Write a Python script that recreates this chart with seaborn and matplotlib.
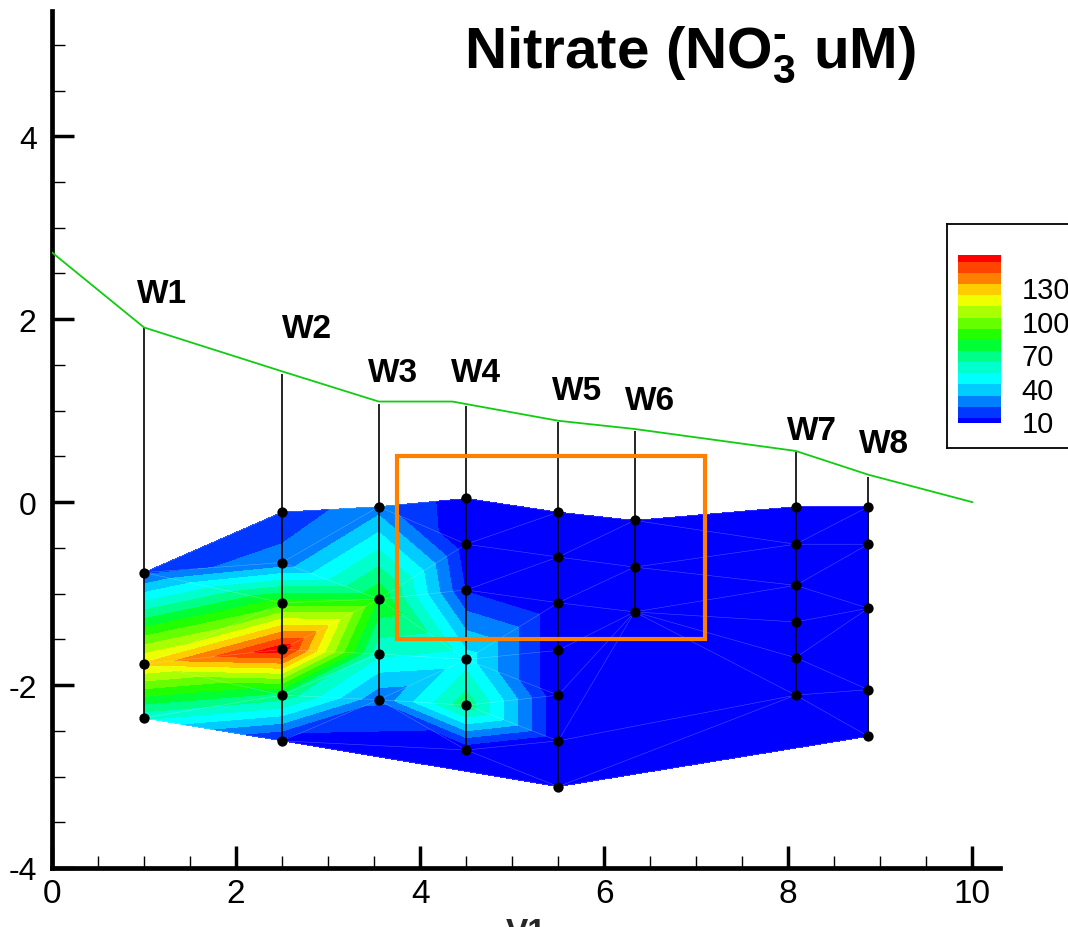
import numpy as np
import pandas as pd
import matplotlib
matplotlib.use("Agg")
import matplotlib.pyplot as plt
import matplotlib.tri as mtri
import matplotlib.patches as mpatches
from matplotlib.colors import ListedColormap, BoundaryNorm
from matplotlib.ticker import MultipleLocator
import seaborn as sns

# ---------------- data ----------------
wells = ["W1", "W2", "W3", "W4", "W5", "W6", "W7", "W8"]
well_x = [1.0, 2.5, 3.55, 4.5, 5.5, 6.33, 8.08, 8.87]
well_top = [1.90, 1.40, 1.07, 1.05, 0.88, 0.78, 0.55, 0.28]

depth_W1 = [-0.77, -1.77, -2.36]
depth_W2 = [-0.11, -0.66, -1.10, -1.61, -2.11, -2.61]
depth_W3 = [-0.05, -1.06, -1.66, -2.16]
depth_W4 = [0.04, -0.46, -0.96, -1.72, -2.22, -2.71]
depth_W5 = [-0.11, -0.60, -1.10, -1.62, -2.11, -2.61, -3.11]
depth_W6 = [-0.20, -0.71, -1.20]
depth_W7 = [-0.05, -0.46, -0.91, -1.31, -1.70, -2.11]
depth_W8 = [-0.05, -0.46, -1.16, -2.05, -2.56]

nitrate_W1 = [20, 125, 55]
nitrate_W2 = [18, 26, 88, 160, 70, 10]
nitrate_W3 = [28, 82, 55, 25]
nitrate_W4 = [5, 6, 12, 48, 70, 5]
nitrate_W5 = [4, 4, 4, 4, 4, 4, 4]
nitrate_W6 = [4, 4, 4]
nitrate_W7 = [4, 4, 4, 4, 4, 4]
nitrate_W8 = [4, 4, 4, 4, 4]

surface_x = [0.0, 1.0, 2.5, 3.55, 4.35, 5.5, 6.33, 8.08, 8.87, 10.0]
surface_y = [2.73, 1.91, 1.43, 1.10, 1.10, 0.89, 0.80, 0.56, 0.30, 0.0]

label_x = [1.19, 2.77, 3.71, 4.61, 5.70, 6.50, 8.26, 9.04]
label_y = [2.19, 1.81, 1.32, 1.32, 1.13, 1.02, 0.69, 0.55]

box_x = [3.75, 7.10]
box_y = [-1.50, 0.50]

levels = [0, 13, 23, 33, 43, 53, 63, 73, 83, 93, 103, 113, 123, 133, 143, 153, 170]
colorbar_ticks = [10, 40, 70, 100, 130]

band_colors = ["#0000FF", "#0038FF", "#0080FF", "#00CCFF", "#00FFFF", "#00FFCC",
               "#00FF88", "#00FF33", "#22FF00", "#66FF00", "#AAFF00", "#EEFF00",
               "#FFCC00", "#FF8000", "#FF4400", "#FF0000"]

depths = [depth_W1, depth_W2, depth_W3, depth_W4, depth_W5, depth_W6, depth_W7, depth_W8]
values = [nitrate_W1, nitrate_W2, nitrate_W3, nitrate_W4, nitrate_W5, nitrate_W6, nitrate_W7, nitrate_W8]

rows = []
for w, wx, ds, vs in zip(wells, well_x, depths, values):
    for d, v in zip(ds, vs):
        rows.append({"well": w, "x": wx, "depth": d, "nitrate": v})
df = pd.DataFrame(rows)

# ---------------- style ----------------
sns.set_theme(style="ticks")
plt.rcParams["font.family"] = ["Liberation Sans", "DejaVu Sans"]
plt.rcParams["axes.unicode_minus"] = False
plt.rcParams["mathtext.fontset"] = "custom"
plt.rcParams["mathtext.rm"] = "Liberation Sans:bold"
plt.rcParams["mathtext.it"] = "Liberation Sans:bold"
plt.rcParams["mathtext.bf"] = "Liberation Sans:bold"

W, H = 1068, 928
fig = plt.figure(figsize=(W / 100, H / 100), dpi=100)
fig.patch.set_facecolor("white")
ax = fig.add_axes([52 / W, 59 / H, 948 / W, 857 / H])
ax.set_facecolor("white")

# ---------------- triangulated contour ----------------
tri = mtri.Triangulation(df["x"].values, df["depth"].values)
top_samples = [d[0] for d in depths]
cx = df["x"].values[tri.triangles].mean(axis=1)
cy = df["depth"].values[tri.triangles].mean(axis=1)
mask = cy > np.interp(cx, well_x, top_samples) + 1e-6
tri.set_mask(mask)

cmap = ListedColormap(band_colors)
norm = BoundaryNorm(levels, cmap.N)
cs = ax.tricontourf(tri, df["nitrate"].values, levels=levels, cmap=cmap, norm=norm, zorder=1)
ax.triplot(tri, color="white", lw=0.4, alpha=0.3, zorder=2)

# well lines
bottoms = [min(d) for d in depths]
ax.vlines(well_x, bottoms, well_top, color="black", lw=1.2, zorder=3)

# surface line
sns.lineplot(x=surface_x, y=surface_y, sort=False, color="#11cc11", lw=1.3,
             ax=ax, zorder=3, legend=False)

# sample points
sns.scatterplot(data=df, x="x", y="depth", color="black", s=55, edgecolor="black",
                linewidth=0, zorder=5, legend=False, ax=ax)

# orange box
ax.add_patch(mpatches.Rectangle((box_x[0], box_y[0]), box_x[1] - box_x[0], box_y[1] - box_y[0],
                                fill=False, edgecolor="#FF8000", lw=3, zorder=6))

# well labels
for name, lx, ly in zip(wells, label_x, label_y):
    ax.text(lx, ly, name, fontsize=24, fontweight="bold", ha="center", va="baseline",
            color="black", zorder=7)

# ---------------- axes ----------------
ax.set_xlim(0, 10.3)
ax.set_ylim(-4, 5.37)
for s in ["top", "right"]:
    ax.spines[s].set_visible(False)
for s in ["left", "bottom"]:
    ax.spines[s].set_linewidth(3.4)
    ax.spines[s].set_color("black")
ax.xaxis.set_major_locator(MultipleLocator(2))
ax.xaxis.set_minor_locator(MultipleLocator(0.5))
ax.yaxis.set_major_locator(MultipleLocator(2))
ax.yaxis.set_minor_locator(MultipleLocator(0.5))
ax.tick_params(which="major", direction="in", length=16, width=2.5,
               color="black", labelcolor="black")
ax.tick_params(which="minor", direction="in", length=9, width=1, color="black")
ax.tick_params(axis="x", which="major", labelsize=24, pad=7)
ax.tick_params(axis="y", which="major", labelsize=23, pad=11)
ax.tick_params(axis="y", which="both", left=True, right=False)
ax.tick_params(axis="x", which="both", bottom=True, top=False)
ax.set_xlabel("V1", fontsize=24, fontweight="bold", labelpad=6)
ax.set_ylabel("")
ax.grid(False)

# ---------------- title ----------------
fig.text(690 / W, 1 - 68 / H, r"Nitrate (NO$_{3}^{\text{-}}$ uM)", fontsize=42,
         fontweight="bold", ha="center", va="baseline", color="black")

# ---------------- legend box with colorbar ----------------
box_ax = fig.add_axes([947 / W, (H - 449) / H, 130 / W, 224 / H], zorder=3)
box_ax.set_xticks([])
box_ax.set_yticks([])
box_ax.set_facecolor("white")
for s in box_ax.spines.values():
    s.set_linewidth(1.3)
    s.set_color("black")

cax = fig.add_axes([958 / W, (H - 424) / H, 43 / W, 168 / H], zorder=4)
cbar = fig.colorbar(cs, cax=cax, spacing="proportional", ticks=colorbar_ticks)
cbar.outline.set_visible(False)
cax.minorticks_off()
cax.set_ylim(8.5, 159)
cax.tick_params(which="both", length=0, labelsize=21, pad=15, labelcolor="black")
cax.set_yticklabels([str(t) for t in colorbar_ticks])

fig.savefig("out.png", dpi=100)
